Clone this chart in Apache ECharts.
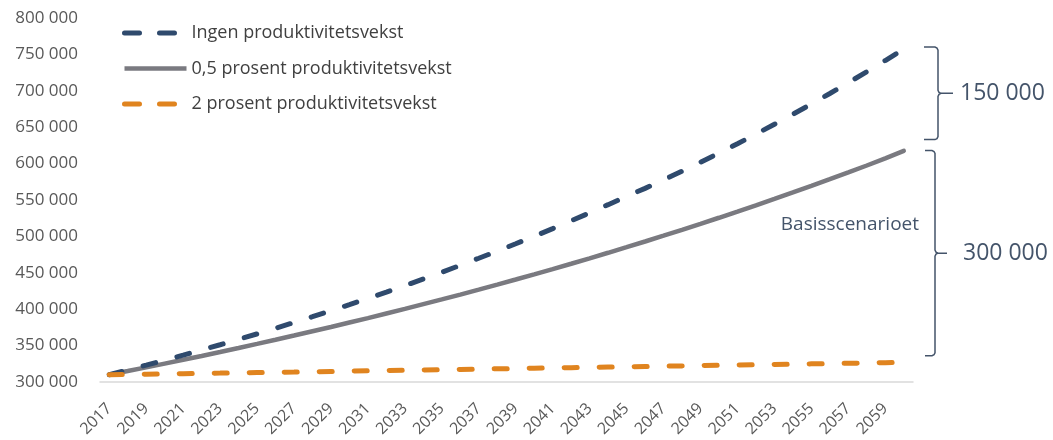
<!DOCTYPE html>
<html>
<head>
<meta charset="utf-8">
<script src="https://cdn.jsdelivr.net/npm/echarts@6/dist/echarts.min.js"></script>
<style>
html,body{margin:0;padding:0;background:#fff;}
#c{width:1053px;height:440px;}
</style>
</head>
<body>
<div id="c"></div>
<script>
const years = [];
for (let y = 2017; y <= 2060; y++) years.push(String(y));

const seriesNames = ['Ingen produktivitetsvekst', '0,5 prosent produktivitetsvekst', '2 prosent produktivitetsvekst'];

const ingen = [310000,316500,323200,330000,336900,344000,351200,358600,366100,373800,381700,389700,397900,406300,414800,423500,432400,441500,450800,460300,470000,479800,489900,500200,510700,521500,532400,543600,555000,566000,577600,589600,601800,614400,627300,640500,654000,667800,681900,696300,711100,726200,741600,757300];

const basis = [310000,315000,320100,325300,330500,335800,341200,346700,352300,358000,363800,369700,375600,381700,387800,394100,400400,406900,413400,420100,426900,433800,440800,447900,455100,462400,469900,477500,485200,493000,501000,509100,517300,525600,534100,542700,551500,560400,569400,578600,587900,597400,607200,617400];

const toProsent = [310000,310400,310700,311100,311500,311900,312200,312600,313000,313400,313700,314100,314500,314900,315300,315700,316100,316500,316900,317300,317700,318100,318500,318900,319300,319700,320100,320500,320900,321300,321700,322100,322500,322900,323300,323700,324100,324500,324900,325300,325700,326100,326500,326900];

const bracketRanges = [[760000, 633000], [618000, 336000]];
const bracketLabels = ['150 000', '300 000'];
const basisLabel = 'Basisscenarioet';
const basisLabelValue = 516000;

const FONT = '"Open Sans", sans-serif';
const NAVY = '#2f4a6d';
const GREY = '#7a7a80';
const ORANGE = '#e0841f';
const SLATE = '#44546a';

function fmt(v){ return String(v).replace(/\B(?=(\d{3})+(?!\d))/g, ' '); }

const dashStyle = function(col){ return {color: col, width: 5, type: [13, 22], cap: 'round'}; };

const chart = echarts.init(document.getElementById('c'), null, {renderer:'canvas'});
chart.setOption({
  animation: false,
  backgroundColor: '#fff',
  grid: {left: 100, right: 140, top: 18, bottom: 58, containLabel: false},
  legend: {
    orient: 'vertical', left: 117, top: 19,
    itemWidth: 62, itemHeight: 14, itemGap: 17.5,
    itemStyle: {opacity: 0},
    textStyle: {fontFamily: FONT, fontSize: 18, color: '#404040', lineHeight: 18},
    data: [
      {name: seriesNames[0], lineStyle: {color: NAVY, width: 5, type: [15, 20], cap: 'round'}},
      {name: seriesNames[1], lineStyle: {color: GREY, width: 4.5, type: 'solid', cap: 'butt'}},
      {name: seriesNames[2], lineStyle: {color: ORANGE, width: 5, type: [15, 20], cap: 'round'}}
    ]
  },
  xAxis: {
    type: 'category', data: years, boundaryGap: true,
    axisLine: {lineStyle: {color: '#d9d9d9', width: 1.5}},
    axisTick: {show: false},
    axisLabel: {interval: 1, rotate: 45, margin: 24, fontFamily: FONT, fontSize: 16, color: '#595959'}
  },
  yAxis: {
    type: 'value', min: 300000, max: 800000, interval: 50000,
    axisLine: {show: false}, axisTick: {show: false}, splitLine: {show: false},
    axisLabel: {margin: 22, fontFamily: FONT, fontSize: 17, color: '#595959', formatter: fmt}
  },
  series: [
    {name: seriesNames[0], type: 'line', data: ingen, symbol: 'none',
     lineStyle: dashStyle(NAVY), itemStyle: {color: NAVY}, z: 3},
    {name: seriesNames[1], type: 'line', data: basis, symbol: 'none',
     lineStyle: {color: GREY, width: 4.5, cap: 'round'}, itemStyle: {color: GREY}, z: 2},
    {name: seriesNames[2], type: 'line', data: toProsent, symbol: 'none',
     lineStyle: dashStyle(ORANGE), itemStyle: {color: ORANGE}, z: 3}
  ]
});

function py(v){ return chart.convertToPixel({yAxisIndex: 0}, v); }
const bracketX = [938, 935];
const nubLen = [15, 12];
const hookLen = [14, 10];
const labelGap = [7, 16];
const graphics = [];
bracketRanges.forEach(function(r, i){
  const yA = py(r[0]), yB = py(r[1]), ym = (yA + yB) / 2;
  const xv = bracketX[i], h = hookLen[i], n = nubLen[i];
  const upper = [[xv - h, yA], [xv - 3, yA], [xv - 1, yA + 1], [xv, yA + 3], [xv, ym - 3], [xv + 1, ym - 1], [xv + 3, ym], [xv + n, ym]];
  const lower = [[xv + 3, ym], [xv + 1, ym + 1], [xv, ym + 3], [xv, yB - 3], [xv - 1, yB - 1], [xv - 3, yB], [xv - h, yB]];
  graphics.push({type: 'polyline', shape: {points: upper}, style: {stroke: SLATE, fill: null, lineWidth: 1.5}, silent: true});
  graphics.push({type: 'polyline', shape: {points: lower}, style: {stroke: SLATE, fill: null, lineWidth: 1.5}, silent: true});
  graphics.push({type: 'text', x: xv + n + labelGap[i], y: ym, silent: true,
    style: {text: bracketLabels[i], font: '23px ' + FONT, fill: SLATE, align: 'left', verticalAlign: 'middle'}});
});
graphics.push({type: 'text', x: 919, y: py(basisLabelValue), silent: true,
  style: {text: basisLabel, font: '19px ' + FONT, fill: SLATE, align: 'right', verticalAlign: 'middle'}});
chart.setOption({graphic: graphics});
</script>
</body>
</html>
